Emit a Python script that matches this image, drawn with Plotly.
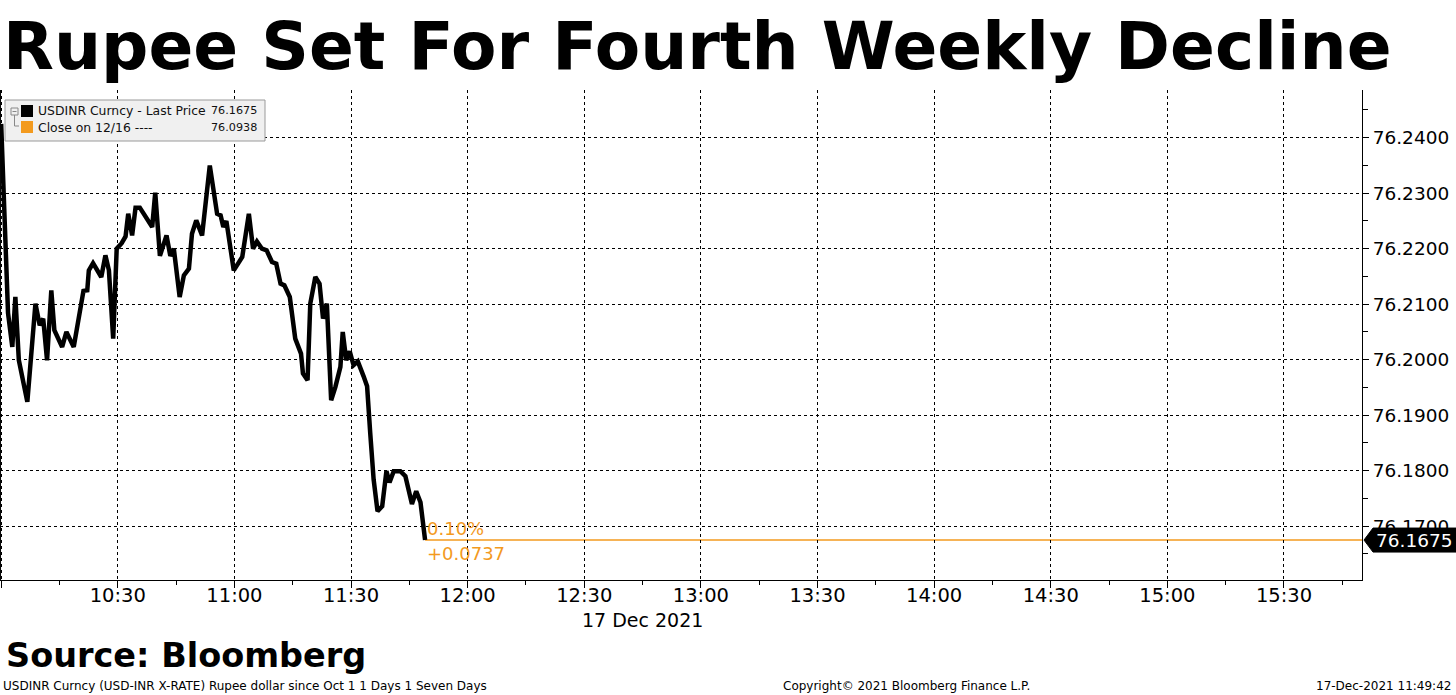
import pandas as pd
import plotly.graph_objects as go

# ---------------- data ----------------
trade_date = "2021-12-17"
times = [
    "10:00:00", "10:01:10", "10:01:46", "10:02:52", "10:03:39", "10:04:33", "10:06:44", "10:08:49",
    "10:09:55", "10:10:49", "10:11:48", "10:12:54", "10:13:41", "10:15:41", "10:16:47", "10:18:40",
    "10:20:16", "10:21:10", "10:22:09", "10:22:33", "10:23:38", "10:25:45", "10:26:49", "10:27:43",
    "10:28:49", "10:29:43", "10:31:00", "10:32:00", "10:32:41", "10:33:41", "10:34:34", "10:35:40",
    "10:38:51", "10:39:38", "10:40:50", "10:42:32", "10:43:31", "10:44:25", "10:45:55", "10:47:00",
    "10:48:18", "10:49:05", "10:50:11", "10:51:41", "10:53:40", "10:55:33", "10:56:27", "10:57:09",
    "10:57:56", "10:59:50", "11:02:01", "11:03:43", "11:04:48", "11:05:48", "11:07:05", "11:08:17",
    "11:09:40", "11:10:46", "11:11:52", "11:12:51", "11:14:15", "11:15:39", "11:17:08", "11:17:38",
    "11:18:49", "11:19:31", "11:20:49", "11:21:54", "11:22:48", "11:23:47", "11:24:53", "11:25:59",
    "11:27:16", "11:27:52", "11:28:46", "11:29:40", "11:30:39", "11:31:45", "11:33:14", "11:34:08",
    "11:34:56", "11:35:49", "11:36:49", "11:38:01", "11:39:06", "11:39:54", "11:40:59", "11:42:41",
    "11:43:59", "11:45:40", "11:46:46", "11:47:52", "11:49:03",
]
usdinr = [
    76.2425, 76.2203, 76.2084, 76.2023, 76.2113, 76.1999, 76.1924, 76.2101,
    76.2062, 76.2074, 76.1999, 76.2125, 76.2053, 76.2023, 76.2050, 76.2023,
    76.2095, 76.2124, 76.2125, 76.2161, 76.2174, 76.2149, 76.2188, 76.2161,
    76.2038, 76.2200, 76.2210, 76.2222, 76.2263, 76.2224, 76.2274, 76.2274,
    76.2239, 76.2301, 76.2187, 76.2224, 76.2187, 76.2200, 76.2113, 76.2152,
    76.2164, 76.2227, 76.2251, 76.2224, 76.2350, 76.2263, 76.2260, 76.2239,
    76.2250, 76.2161, 76.2185, 76.2263, 76.2200, 76.2213, 76.2200, 76.2197,
    76.2176, 76.2173, 76.2137, 76.2134, 76.2113, 76.2038, 76.2011, 76.1975,
    76.1963, 76.2101, 76.2149, 76.2137, 76.2074, 76.2101, 76.1927, 76.1951,
    76.1987, 76.2050, 76.1999, 76.2015, 76.1990, 76.1997, 76.1970, 76.1952,
    76.1868, 76.1784, 76.1727, 76.1736, 76.1799, 76.1779, 76.1799, 76.1799,
    76.1790, 76.1740, 76.1763, 76.1743, 76.1675,
]
last_price = 76.1675
prev_close = 76.0938
change_abs = "+0.0737"
change_pct = "0.10%"
y_ticks = [76.17, 76.18, 76.19, 76.20, 76.21, 76.22, 76.23, 76.24]

title_text = "Rupee Set For Fourth Weekly Decline"
source_text = "Source: Bloomberg"
footer_left = "USDINR Curncy (USD-INR X-RATE) Rupee dollar since Oct 1 1 Days 1 Seven Days"
footer_mid = "Copyright\u00a9 2021 Bloomberg Finance L.P."
footer_right = "17-Dec-2021 11:49:42"
date_label = "17 Dec 2021"
legend_rows = [("USDINR Curncy - Last Price", "76.1675", "#000000"),
               ("Close on 12/16 ----", "76.0938", "#F39A1E")]

# ---------------- figure ----------------
W, H = 1456, 695
L, R, T, B = 0, 94, 90, 115
PW, PH = W - L - R, H - T - B
ORANGE = "#F39A1E"
FONT = "DejaVu Sans"

x = pd.to_datetime([f"{trade_date} {t}" for t in times])
x_start = pd.Timestamp(f"{trade_date} 09:59:42")
x_end = pd.Timestamp(f"{trade_date} 15:50:04")
y_lo, y_hi = 76.1603, 76.2486


def px(xp):
    return (xp - L) / PW


def py(yp):
    return (H - B - yp) / PH


def yv(yp):
    return y_hi - (yp - T) / PH * (y_hi - y_lo)


fig = go.Figure()
fig.add_trace(go.Scatter(x=x, y=usdinr, mode="lines",
                         line=dict(color="black", width=4.5), hoverinfo="skip",
                         showlegend=False))

shapes = []
# orange last-price line
shapes.append(dict(type="line", xref="x", yref="y", x0=x[-1], x1=x_end,
                   y0=last_price, y1=last_price, line=dict(color=ORANGE, width=1.5),
                   layer="below"))
# left frame
shapes.append(dict(type="line", xref="paper", yref="paper", x0=0.0004, x1=0.0004,
                   y0=0, y1=1, line=dict(color="black", width=1)))
# price tag on the right axis
dy = 12 * (y_hi - y_lo) / PH
tag_path = (f"M {px(1364)},{last_price} L {px(1373)},{last_price + dy} "
            f"L {px(1456)},{last_price + dy} L {px(1456)},{last_price - dy} "
            f"L {px(1373)},{last_price - dy} Z")
shapes.append(dict(type="path", xref="paper", yref="y", path=tag_path,
                   fillcolor="black", line=dict(color="black", width=1), layer="above"))
# legend box
shapes.append(dict(type="rect", xref="paper", yref="paper", x0=px(5), x1=px(265),
                   y0=py(141), y1=py(100), fillcolor="#f0f0f0",
                   line=dict(color="#9a9a9a", width=1), layer="above"))
# legend tree icon
shapes.append(dict(type="rect", xref="paper", yref="paper", x0=px(11), x1=px(18),
                   y0=py(115), y1=py(108), fillcolor="#f0f0f0",
                   line=dict(color="#888888", width=1), layer="above"))
shapes.append(dict(type="line", xref="paper", yref="paper", x0=px(12.5), x1=px(16.5),
                   y0=py(111.5), y1=py(111.5), line=dict(color="#888888", width=1), layer="above"))
shapes.append(dict(type="path", xref="paper", yref="paper",
                   path=f"M {px(14.5)},{py(115)} L {px(14.5)},{py(126)} L {px(19)},{py(126)}",
                   line=dict(color="#888888", width=1), layer="above"))
# legend colour squares
for i, (_, _, col) in enumerate(legend_rows):
    yc = 111 + 16 * i
    shapes.append(dict(type="rect", xref="paper", yref="paper", x0=px(21), x1=px(33),
                       y0=py(yc + 6), y1=py(yc - 6), fillcolor=col,
                       line=dict(color=col, width=0), layer="above"))

ann = []
for i, (label, val, _) in enumerate(legend_rows):
    yc = 111 + 16 * i
    ann.append(dict(xref="paper", yref="paper", x=px(36), y=py(yc), text=label,
                    showarrow=False, xanchor="left", yanchor="middle",
                    font=dict(family=FONT, size=12.4, color="#101010")))
    ann.append(dict(xref="paper", yref="paper", x=px(259), y=py(yc), text=val,
                    showarrow=False, xanchor="right", yanchor="middle",
                    font=dict(family=FONT, size=11.2, color="#101010")))

ann += [
    dict(xref="paper", yref="paper", x=px(1), y=py(46), text=f"<b>{title_text}</b>",
         showarrow=False, xanchor="left", yanchor="middle",
         font=dict(family="DejaVu Sans", size=66.2, color="black")),
    dict(xref="paper", yref="paper", x=px(4), y=py(655), text=f"<b>{source_text}</b>",
         showarrow=False, xanchor="left", yanchor="middle",
         font=dict(family="DejaVu Sans", size=33.5, color="black")),
    dict(xref="paper", yref="paper", x=px(1), y=py(686), text=footer_left,
         showarrow=False, xanchor="left", yanchor="middle",
         font=dict(family=FONT, size=12, color="black")),
    dict(xref="paper", yref="paper", x=px(781), y=py(686), text=footer_mid,
         showarrow=False, xanchor="left", yanchor="middle",
         font=dict(family=FONT, size=12, color="black")),
    dict(xref="paper", yref="paper", x=px(1453), y=py(686), text=footer_right,
         showarrow=False, xanchor="right", yanchor="middle",
         font=dict(family=FONT, size=12, color="black")),
    dict(xref="paper", yref="paper", x=px(642), y=py(620), text=date_label,
         showarrow=False, xanchor="center", yanchor="middle",
         font=dict(family=FONT, size=19, color="black")),
    dict(xref="x", yref="y", x=x[-1], y=yv(528), text=change_pct,
         showarrow=False, xanchor="left", yanchor="middle",
         font=dict(family=FONT, size=18, color=ORANGE)),
    dict(xref="x", yref="y", x=x[-1], y=yv(553), text=change_abs,
         showarrow=False, xanchor="left", yanchor="middle",
         font=dict(family=FONT, size=18, color=ORANGE)),
    dict(xref="paper", yref="y", x=px(1414), y=last_price, text=f"{last_price:.4f}",
         showarrow=False, xanchor="center", yanchor="middle",
         font=dict(family=FONT, size=18.5, color="white")),
]

fig.update_layout(
    width=W, height=H,
    margin=dict(l=L, r=R, t=T, b=B, pad=0),
    paper_bgcolor="white", plot_bgcolor="white",
    showlegend=False,
    shapes=shapes, annotations=ann,
    xaxis=dict(type="date", range=[x_start, x_end],
               tick0=f"{trade_date} 10:00", dtick=30 * 60 * 1000, tickformat="%H:%M",
               ticks="outside", ticklen=7, tickcolor="black", tickwidth=1,
               ticklabelstandoff=-9,
               showline=True, linecolor="black", linewidth=1,
               showgrid=True, gridcolor="black", griddash="dot", gridwidth=1,
               minor=dict(dtick=15 * 60 * 1000, ticks="outside", ticklen=4,
                          tickcolor="black", showgrid=False),
               tickfont=dict(family=FONT, size=19.5, color="black"),
               zeroline=False, fixedrange=True),
    yaxis=dict(side="right", range=[y_lo, y_hi],
               tickvals=y_ticks, ticktext=[f"{v:.4f}" for v in y_ticks],
               ticks="outside", ticklen=6, tickcolor="black", tickwidth=1,
               showline=True, linecolor="black", linewidth=1,
               showgrid=True, gridcolor="black", griddash="dot", gridwidth=1,
               minor=dict(dtick=0.005, tick0=76.165, ticks="outside", ticklen=5,
                          tickcolor="black", showgrid=False),
               tickfont=dict(family=FONT, size=18.5, color="black"),
               zeroline=False, fixedrange=True),
)

fig.write_html("out.html", config={"displayModeBar": False})

# remove the browser's default page margin so the figure sits at the page origin
with open("out.html", "r", encoding="utf-8") as f:
    html = f.read()
html = html.replace("<head>", "<head><style>html,body{margin:0;padding:0;overflow:hidden;}</style>", 1)
with open("out.html", "w", encoding="utf-8") as f:
    f.write(html)
